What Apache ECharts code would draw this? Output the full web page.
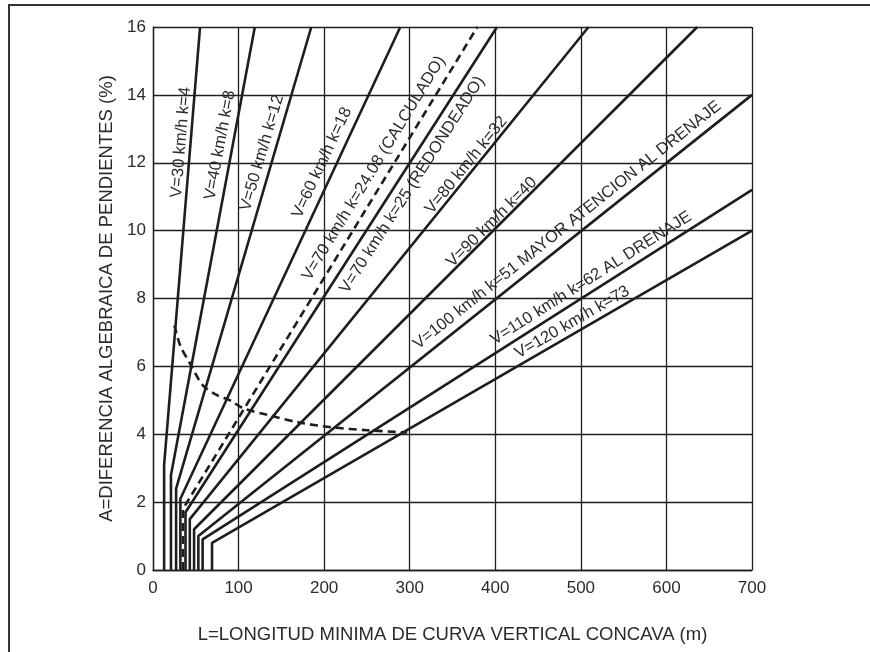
<!DOCTYPE html>
<html><head><meta charset="utf-8">
<script src="https://cdn.jsdelivr.net/npm/echarts@6/dist/echarts.min.js"></script>
<style>html,body{margin:0;padding:0;background:#fff}#c{width:870px;height:652px}</style>
</head><body><div id="c"></div>
<script>
// ---- data ----
const xTicks = [0, 100, 200, 300, 400, 500, 600, 700];
const yTicks = [0, 2, 4, 6, 8, 10, 12, 14, 16];
const lineNames = ['V=30','V=40','V=50','V=60','V=70 calc','V=70','V=80','V=90','V=100','V=110','V=120'];
// minimum length (vertical foot), A at the kink, end point of the sloped part
const footL = [13, 21, 27, 32, 35, 38, 43, 48, 53, 58, 69];
const kinkA = [3.1, 2.8, 2.4, 2.1, 1.8, 1.7, 1.5, 1.2, 1.0, 0.9, 0.8];
const endL  = [55, 119, 185, 289, 379, 402, 509, 636, 700, 700, 700];
const endA  = [16, 16, 16, 16, 16, 16, 16, 16, 14, 11.2, 10];
const dashedLine = [false,false,false,false,true,false,false,false,false,false,false];
// dashed drainage curve
const curveL = [25, 32, 43, 58, 75, 90, 105, 134, 170, 210, 250, 297];
const curveA = [7.2, 6.6, 6.1, 5.45, 5.15, 5.0, 4.77, 4.57, 4.35, 4.2, 4.12, 4.05];
// line labels
const labelText = ['V=30 km/h k=4','V=40 km/h k=8','V=50 km/h k=12','V=60 km/h k=18',
  'V=70 km/h k=24.08 (CALCULADO)','V=70 km/h k=25 (REDONDEADO)','V=80 km/h k=32','V=90 km/h k=40',
  'V=100 km/h k=51 MAYOR ATENCION AL DRENAJE','V=110 km/h k=62 AL DRENAJE','V=120 km/h k=73'];
const labelL = [32.7, 78.3, 127.4, 197.5, 258, 303, 366, 396, 484, 512, 490];
const labelA = [12.6, 12.52, 12.29, 12.0, 11.84, 11.35, 11.93, 10.25, 10.16, 8.6, 7.3];
const xTitle = 'L=LONGITUD MINIMA DE CURVA VERTICAL CONCAVA (m)';
const yTitle = 'A=DIFERENCIA ALGEBRAICA DE PENDIENTES (%)';

const FONT = "'Liberation Sans', Arial, sans-serif";
const INK = '#1e1e1e';
const TXT = '#2a2a33';
const chart = echarts.init(document.getElementById('c'), null, {renderer: 'canvas'});

const series = lineNames.map((n, i) => ({
  name: n, type: 'line', symbol: 'none', animation: false, silent: true,
  data: [[footL[i], 0], [footL[i], kinkA[i]], [endL[i], endA[i]]],
  lineStyle: {color: INK, width: 2.6, type: dashedLine[i] ? [8, 5] : 'solid'}
}));
series.push({
  name: 'curve', type: 'line', symbol: 'none', animation: false, silent: true, smooth: 0.3,
  data: curveL.map((v, i) => [v, curveA[i]]),
  lineStyle: {color: INK, width: 2.6, type: [8, 5]}
});

const option = {
  animation: false,
  backgroundColor: '#fff',
  grid: {left: 153, top: 27, right: 118, bottom: 82, containLabel: false},
  xAxis: {
    type: 'value', min: xTicks[0], max: xTicks[xTicks.length - 1], interval: xTicks[1] - xTicks[0],
    name: xTitle, nameLocation: 'middle', nameGap: 55,
    nameTextStyle: {fontFamily: FONT, fontSize: 18.5, color: TXT},
    axisLine: {show: true, lineStyle: {color: INK, width: 1.3}},
    axisTick: {show: false},
    axisLabel: {fontFamily: FONT, fontSize: 17, color: TXT, margin: 10},
    splitLine: {show: true, lineStyle: {color: INK, width: 1.3}}
  },
  yAxis: {
    type: 'value', min: yTicks[0], max: yTicks[yTicks.length - 1], interval: yTicks[1] - yTicks[0],
    name: yTitle, nameLocation: 'middle', nameGap: 27, nameRotate: 90,
    nameTextStyle: {fontFamily: FONT, fontSize: 18.5, color: TXT},
    axisLine: {show: true, lineStyle: {color: INK, width: 1.3}},
    axisTick: {show: false},
    axisLabel: {fontFamily: FONT, fontSize: 17, color: TXT, margin: 7},
    splitLine: {show: true, lineStyle: {color: INK, width: 1.3}}
  },
  series: series,
  graphic: [{
    type: 'rect', shape: {x: 9, y: 5, width: 1000, height: 1000},
    style: {fill: 'none', stroke: '#333', lineWidth: 2}, silent: true
  }]
};
chart.setOption(option);

// rotated labels along the sloped parts of the lines
const texts = labelText.map((t, i) => {
  const p1 = chart.convertToPixel({gridIndex: 0}, [footL[i], kinkA[i]]);
  const p2 = chart.convertToPixel({gridIndex: 0}, [endL[i], endA[i]]);
  const ang = Math.atan2(-(p2[1] - p1[1]), p2[0] - p1[0]);
  const c = chart.convertToPixel({gridIndex: 0}, [labelL[i], labelA[i]]);
  return {
    type: 'text', x: c[0], y: c[1], rotation: ang, silent: true, z: 10,
    style: {text: t, x: 0, y: 0, align: 'center', verticalAlign: 'middle',
      fontFamily: FONT, fontSize: 16.5, fill: TXT}
  };
});
chart.setOption({graphic: option.graphic.concat(texts)});
</script></body></html>
